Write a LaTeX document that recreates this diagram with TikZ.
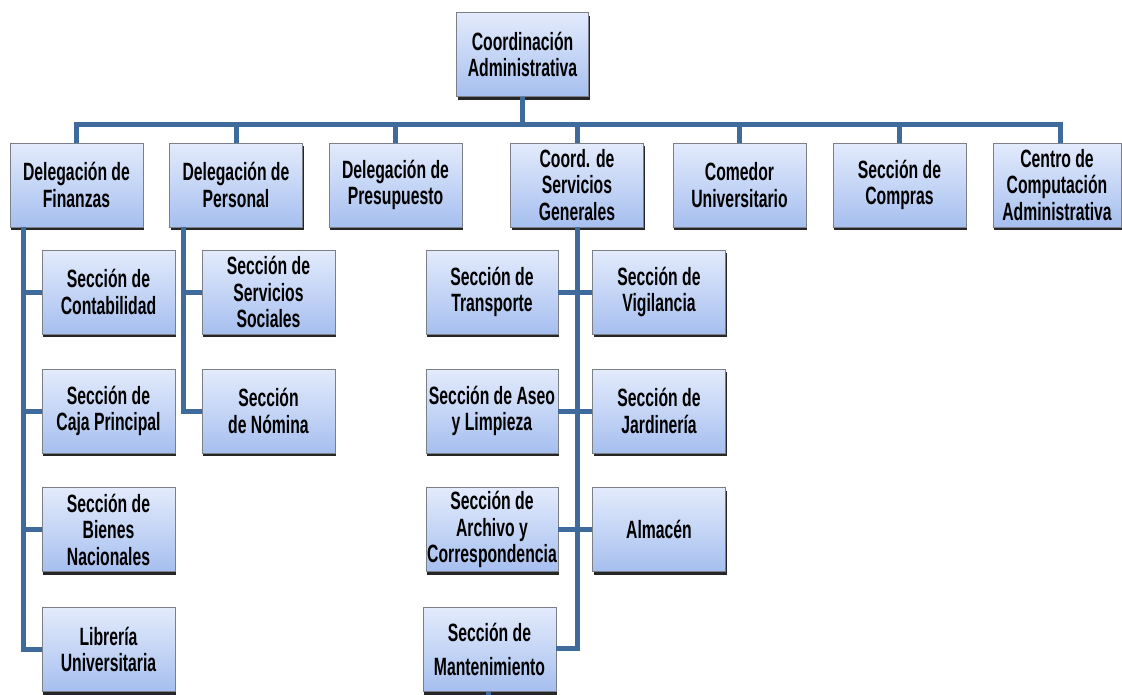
\documentclass[tikz,border=0pt]{standalone}
\usepackage{fontspec}
\setmainfont{Liberation Sans}[FakeStretch=0.63]
\usetikzlibrary{positioning, shadows}

\definecolor{boxtop}{HTML}{E3EBFC}
\definecolor{boxbot}{HTML}{A6BFEF}
\definecolor{boxline}{HTML}{7A7F88}
\definecolor{linkblue}{HTML}{3F6A9C}

\begin{document}
\begin{tikzpicture}[
    x=1pt, y=-1pt,
    unit/.style={draw=boxline, line width=0.8pt, top color=boxtop, bottom color=boxbot,
        align=center, minimum width=133pt, minimum height=84pt, inner sep=1pt,
        font=\fontsize{25}{26.5}\selectfont\bfseries,
        drop shadow={shadow xshift=1.2pt, shadow yshift=-3pt, fill=black!85, opacity=1}},
    conn/.style={draw=linkblue, line width=5pt}
]
\useasboundingbox (0,0) rectangle (1122,694);

% top
\node[unit, minimum width=132pt] (coord) at (522.5,54.5) {Coordinación\\Administrativa};

% second level
\node[unit] (fin) at (76.5,185) {Delegación de\\Finanzas};
\node[unit] (per) at (236,185) {Delegación de\\Personal};
\node[unit] (pre) at (395.5,185) {Delegación de\\Presupuesto};
\node[unit] (srv) at (577,185) {Coord. de\\Servicios\\Generales};
\node[unit] (com) at (739.5,185) {Comedor\\Universitario};
\node[unit] (cmp) at (899.5,185) {Sección de\\Compras};
\node[unit, minimum width=128pt] (cca) at (1057,185) {Centro de\\Computación\\Administrativa};

% Finanzas
\node[unit] (cont) at (108.5,292) {Sección de\\Contabilidad};
\node[unit] (caja) at (108.5,411) {Sección de\\Caja Principal};
\node[unit] (bien) at (108.5,529.5) {Sección de\\Bienes\\Nacionales};
\node[unit] (lib) at (108.5,649.5) {Librería\\Universitaria};

% Personal
\node[unit] (ss) at (268.5,292) {Sección de\\Servicios\\Sociales};
\node[unit] (nom) at (268.5,411) {Sección\\de Nómina};

% Servicios Generales
\node[unit, minimum width=132pt] (trans) at (492,292) {Sección de\\Transporte};
\node[unit, minimum width=132pt] (aseo) at (492,411) {Sección de Aseo\\y Limpieza};
\node[unit, minimum width=132pt] (arch) at (492,529.5) {Sección de\\Archivo y\\Correspondencia};
\node[unit] (mant) at (489.5,649.5) {Sección de\\[8pt]Mantenimiento};
\node[unit] (vig) at (659,292) {Sección de\\Vigilancia};
\node[unit] (jard) at (659,411) {Sección de\\Jardinería};
\node[unit] (alm) at (659,529.5) {Almacén};

% connectors
\foreach \n in {fin,per,pre,srv,com,cmp}
    \draw[conn] (coord.south) -- ++(0,28) -| (\n.north);
\draw[conn] (coord.south) -- ++(0,28) -| ([xshift=3pt]cca.north);
\foreach \c in {cont,caja,bien,lib}
    \draw[conn] ([xshift=-53pt]fin.south) |- (\c.west);
\foreach \c in {ss,nom}
    \draw[conn] ([xshift=-52.5pt]per.south) |- (\c.west);
\foreach \c in {trans,aseo,arch}
    \draw[conn] (srv.south) |- (\c.east);
\foreach \c in {vig,jard,alm}
    \draw[conn] (srv.south) |- (\c.west);
\draw[conn] (srv.south) |- ([yshift=1.5pt]mant.east);
\draw[conn] ([xshift=-1.5pt]mant.south) -- ++(0,4);
\end{tikzpicture}
\end{document}
